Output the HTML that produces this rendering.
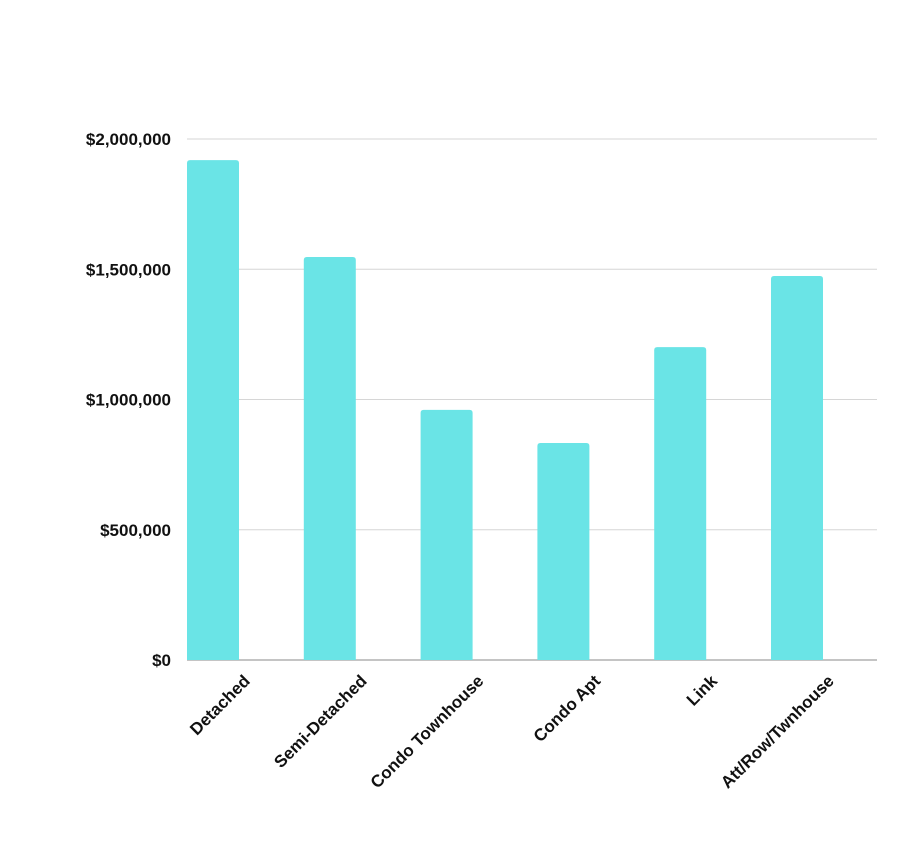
<!DOCTYPE html>
<html><head><meta charset="utf-8"><style>
body{margin:0;background:#fff;}
svg{display:block;font-family:"Liberation Sans",sans-serif;}
</style></head><body>
<svg id="chart" width="900" height="850" viewBox="0 0 900 850">
<g id="grid"></g>
<g id="yaxis"></g>
<g id="bars"></g>
<g id="xaxis"></g>
</svg>
<script>
const categories = ["Detached","Semi-Detached","Condo Townhouse","Condo Apt","Link","Att/Row/Twnhouse"];
const values = [1919000,1547000,960000,833000,1201000,1474000];
const yTicks = [0,500000,1000000,1500000,2000000];
const yTickLabels = ["$0","$500,000","$1,000,000","$1,500,000","$2,000,000"];

const NS="http://www.w3.org/2000/svg";
const plotL=187, plotR=877, y0=660, yTop=139, yMax=2000000;
function y(v){return y0-(v/yMax)*(y0-yTop);}
function xc(i){return 213+i*116.8;}
function mk(t,a,p){const e=document.createElementNS(NS,t);for(const k in a)e.setAttribute(k,a[k]);p.appendChild(e);return e;}

const grid=document.getElementById('grid'), ya=document.getElementById('yaxis'), bars=document.getElementById('bars'), xa=document.getElementById('xaxis');
yTicks.forEach((t,i)=>{
  const l=mk('line',{x1:plotL,x2:plotR,y1:y(t),y2:y(t),stroke:i===0?'#888':'#d6d6d6','stroke-width':1},grid);
  
  
  const tx=mk('text',{x:171,y:y(t)+6,'text-anchor':'end','font-size':17,'font-weight':'bold',fill:'#111'},ya);
  tx.textContent=yTickLabels[i];
  
  
});
values.forEach((v,i)=>{
  const w=52, top=y(v), r=3;
  const x=xc(i)-w/2;
  const p=mk('path',{d:`M${x},${y0} V${top+r} Q${x},${top} ${x+r},${top} H${x+w-r} Q${x+w},${top} ${x+w},${top+r} V${y0} Z`,fill:'#6ae4e6'},bars);
  
  
  const tx=mk('text',{x:xc(i)+38,y:682,'text-anchor':'end','font-size':17,'font-weight':'bold',fill:'#111',transform:`rotate(-45 ${xc(i)+38} 682)`},xa);
  tx.textContent=categories[i];
  
  
});
</script>
</body></html>
